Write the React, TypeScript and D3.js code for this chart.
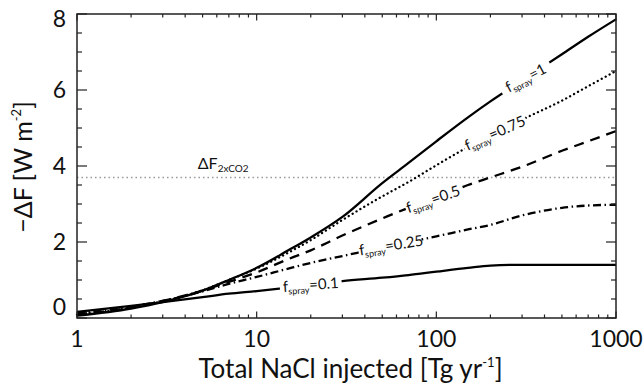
import React from 'react';
import * as d3 from 'd3';

// NaCl injection rate [Tg/yr]
const nacl = [1, 2, 3, 5, 7, 10, 15, 20, 30, 50, 70, 100, 150, 200, 300, 500, 700, 1000];
// -ΔF [W m-2] for each spray fraction
const f100 = [0.06, 0.25, 0.42, 0.72, 1.0, 1.32, 1.78, 2.12, 2.66, 3.55, 4.08, 4.65, 5.28, 5.7, 6.25, 6.94, 7.4, 7.86];
const f075 = [0.08, 0.27, 0.44, 0.73, 1.0, 1.3, 1.72, 2.05, 2.58, 3.2, 3.58, 4.02, 4.5, 4.8, 5.22, 5.72, 6.1, 6.5];
const f050 = [0.1, 0.28, 0.45, 0.72, 0.95, 1.2, 1.55, 1.78, 2.17, 2.62, 2.9, 3.15, 3.5, 3.7, 3.98, 4.4, 4.65, 4.92];
const f025 = [0.12, 0.3, 0.45, 0.7, 0.9, 1.08, 1.3, 1.45, 1.63, 1.86, 2.0, 2.15, 2.33, 2.45, 2.7, 2.9, 2.96, 2.98];
const f010 = [0.16, 0.32, 0.42, 0.55, 0.64, 0.71, 0.8, 0.87, 0.97, 1.06, 1.13, 1.22, 1.32, 1.38, 1.4, 1.4, 1.4, 1.4];
const co2Forcing = 3.7;

const xTicks = [1, 10, 100, 1000];
const yTicks = [0, 2, 4, 6, 8];

const seriesList = [
  { name: '1', values: f100, dash: 'none', labelAt: 315, angle: 28, gap: 56 },
  { name: '0.75', values: f075, dash: '0.1 4.4', labelAt: 212, angle: 24, gap: 68 },
  { name: '0.5', values: f050, dash: '10 7', labelAt: 96, angle: 19, gap: 58 },
  { name: '0.25', values: f025, dash: '8 3.5 1.5 3.5', labelAt: 56, angle: 9, gap: 62 },
  { name: '0.1', values: f010, dash: 'none', labelAt: 20, angle: 4, gap: 62 },
];

const FONT = 'Lato, "Open Sans", sans-serif';

function valueAt(vals: number[], xv: number) {
  const lx = Math.log10(xv);
  for (let i = 0; i < nacl.length - 1; i++) {
    const a = Math.log10(nacl[i]), b = Math.log10(nacl[i + 1]);
    if (lx >= a && lx <= b) {
      const t = (lx - a) / (b - a);
      return vals[i] + t * (vals[i + 1] - vals[i]);
    }
  }
  return vals[vals.length - 1];
}

export default function App() {
  const W = 643, H = 385;
  const L = 77, R = 616, T = 14, B = 318;
  const x = d3.scaleLog().domain([1, 1000]).range([L, R]);
  const y = d3.scaleLinear().domain([0, 8]).range([B, T]);
  const line = d3
    .line<number>()
    .x((_, i) => x(nacl[i]))
    .y((d) => y(d))
    .curve(d3.curveMonotoneX);

  const minorX: number[] = [];
  [1, 10, 100].forEach((d) => {
    for (let k = 2; k <= 9; k++) minorX.push(d * k);
  });
  const minorY: number[] = d3.range(0, 8.01, 0.5).filter((v) => v % 2 !== 0);

  const labels = seriesList.map((s) => ({
    ...s,
    cx: x(s.labelAt),
    cy: y(valueAt(s.values, s.labelAt)),
  }));

  const tickColor = '#222';
  const yLabelOffset = (v: number) => (v === 8 ? 17 : v === 0 ? 1 : 12);

  return (
    <svg width={W} height={H} style={{ position: 'absolute', left: 0, top: 0, background: '#fff' }} fontFamily={FONT}>
      <defs>
        <mask id="gaps" maskUnits="userSpaceOnUse" x={0} y={0} width={W} height={H}>
          <rect x={0} y={0} width={W} height={H} fill="#fff" />
          {labels.map((l) => (
            <rect
              key={l.name}
              x={-l.gap / 2}
              y={-7}
              width={l.gap}
              height={14}
              fill="#000"
              transform={`translate(${l.cx},${l.cy}) rotate(${-l.angle})`}
            />
          ))}
        </mask>
      </defs>
      <rect x={0} y={0} width={W} height={H} fill="#fff" />

      {/* 2xCO2 reference line */}
      <line x1={L} x2={R} y1={y(co2Forcing)} y2={y(co2Forcing)} stroke="#9a9a9a" strokeWidth={1.5} strokeDasharray="1.5 3" />
      <text x={x(4.7)} y={y(co2Forcing) - 8} fontSize={16} fill="#111">
        ΔF<tspan fontSize={10} dy={3}>2xCO2</tspan>
      </text>

      {/* curves */}
      <g mask="url(#gaps)">
        {seriesList.map((s) => (
          <path
            key={s.name}
            d={line(s.values) || ''}
            fill="none"
            stroke="#000"
            strokeWidth={2.3}
            strokeDasharray={s.dash}
            strokeLinecap={s.dash.startsWith('0.1') ? 'round' : 'butt'}
          />
        ))}
      </g>
      {labels.map((l) => (
        <g key={l.name} transform={`translate(${l.cx},${l.cy}) rotate(${-l.angle})`}>
          <text textAnchor="middle" y={5} fontSize={15} fill="#111">
            f<tspan fontSize={9} dy={3}>spray</tspan>
            <tspan dy={-3}>={l.name}</tspan>
          </text>
        </g>
      ))}

      {/* frame */}
      <rect x={L} y={T} width={R - L} height={B - T} fill="none" stroke={tickColor} strokeWidth={1.5} />
      {/* x ticks */}
      {xTicks.map((t) => (
        <g key={'xt' + t}>
          <line x1={x(t)} x2={x(t)} y1={B} y2={B - 6.5} stroke={tickColor} strokeWidth={1.2} />
          <line x1={x(t)} x2={x(t)} y1={T} y2={T + 6.5} stroke={tickColor} strokeWidth={1.2} />
          <text x={x(t)} y={B + 29} textAnchor="middle" fontSize={23} fill="#111">
            {t}
          </text>
        </g>
      ))}
      {minorX.map((t) => (
        <g key={'xm' + t}>
          <line x1={x(t)} x2={x(t)} y1={B} y2={B - 3.5} stroke={tickColor} strokeWidth={1.2} />
          <line x1={x(t)} x2={x(t)} y1={T} y2={T + 3.5} stroke={tickColor} strokeWidth={1.2} />
        </g>
      ))}
      {/* y ticks */}
      {yTicks.map((t) => (
        <g key={'yt' + t}>
          <line x1={L} x2={L + 10} y1={y(t)} y2={y(t)} stroke={tickColor} strokeWidth={1.2} />
          <line x1={R} x2={R - 10} y1={y(t)} y2={y(t)} stroke={tickColor} strokeWidth={1.2} />
          <text x={66} y={y(t) + yLabelOffset(t) - 4} textAnchor="end" fontSize={23} fill="#111">
            {t}
          </text>
        </g>
      ))}
      {minorY.map((t) => (
        <g key={'ym' + t}>
          <line x1={L} x2={L + 5} y1={y(t)} y2={y(t)} stroke={tickColor} strokeWidth={1.2} />
          <line x1={R} x2={R - 5} y1={y(t)} y2={y(t)} stroke={tickColor} strokeWidth={1.2} />
        </g>
      ))}

      {/* axis titles */}
      <text x={(L + R) / 2 + 4} y={378} textAnchor="middle" fontSize={26} fill="#111">
        Total NaCl injected [Tg yr<tspan fontSize={13} dy={-11}>-1</tspan>
        <tspan dy={11}>]</tspan>
      </text>
      <text transform={`translate(32,${167}) rotate(-90)`} textAnchor="middle" fontSize={25} fill="#111">
        −ΔF [W m<tspan fontSize={13} dy={-11}>-2</tspan>
        <tspan dy={11}>]</tspan>
      </text>
    </svg>
  );
}
